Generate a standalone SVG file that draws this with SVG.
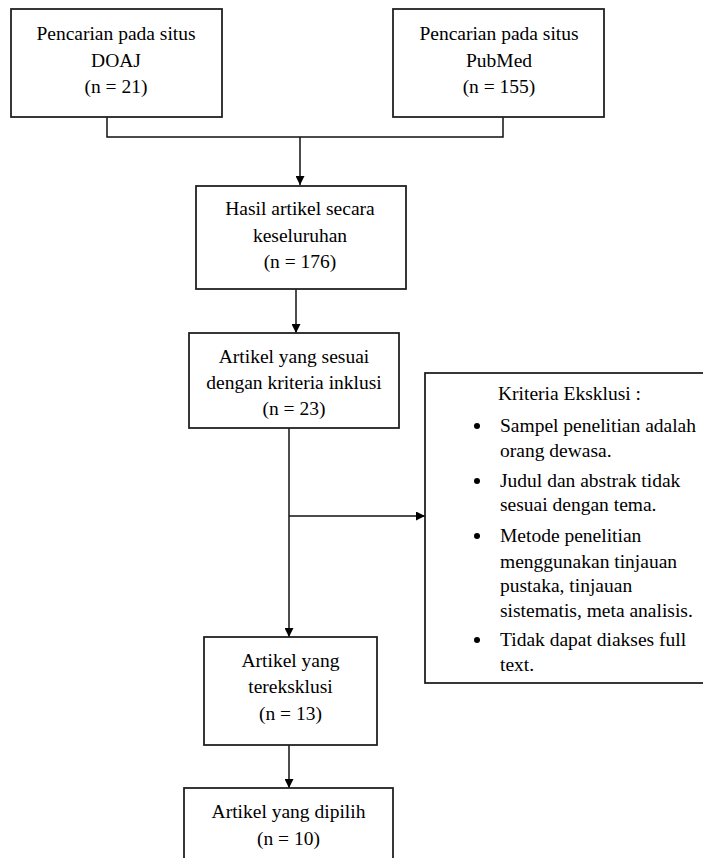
<svg xmlns="http://www.w3.org/2000/svg" width="703" height="858" viewBox="0 0 703 858">
<style>
.box{fill:#fff;stroke:#222;stroke-width:1.8}
.t{font-family:"Liberation Serif","Times New Roman",serif;font-size:19.5px;fill:#000}
.c{text-anchor:middle}
.ln{fill:none;stroke:#111;stroke-width:1.5}
</style>
<defs>
<marker id="ah" viewBox="0 0 10 10" refX="10" refY="5" markerWidth="9" markerHeight="9" markerUnits="userSpaceOnUse" orient="auto">
<path d="M0,0 L10,5 L0,10 Z" fill="#000"/>
</marker>
</defs>
<rect width="703" height="858" fill="#fff"/>
<g id="connectors">
<polyline class="ln" points="107,117 107,137 503,137 503,117"/>
<line class="ln" x1="300" y1="137" x2="300" y2="185" marker-end="url(#ah)"/>
<line class="ln" x1="296" y1="289" x2="296" y2="333" marker-end="url(#ah)"/>
<line class="ln" x1="289" y1="428" x2="289" y2="637" marker-end="url(#ah)"/>
<line class="ln" x1="289" y1="516" x2="425" y2="516" marker-end="url(#ah)"/>
<line class="ln" x1="289" y1="745" x2="289" y2="788" marker-end="url(#ah)"/>
</g>
<g id="doaj">
<rect class="box" x="11" y="9" width="211" height="108"/>
<text class="t c" x="116" y="40">Pencarian pada situs</text>
<text class="t c" x="116" y="67">DOAJ</text>
<text class="t c" x="116" y="93">(n = 21)</text>
</g>
<g id="pubmed">
<rect class="box" x="393" y="9" width="211" height="108"/>
<text class="t c" x="499" y="40">Pencarian pada situs</text>
<text class="t c" x="499" y="67">PubMed</text>
<text class="t c" x="499" y="93">(n = 155)</text>
</g>
<g id="hasil">
<rect class="box" x="196" y="186" width="210" height="103"/>
<text class="t c" x="300" y="215">Hasil artikel secara</text>
<text class="t c" x="300" y="242">keseluruhan</text>
<text class="t c" x="300" y="268">(n = 176)</text>
</g>
<g id="inklusi">
<rect class="box" x="189" y="333" width="210" height="95"/>
<text class="t c" x="294" y="363">Artikel yang sesuai</text>
<text class="t c" x="294" y="389">dengan kriteria inklusi</text>
<text class="t c" x="294" y="415">(n = 23)</text>
</g>
<g id="eksklusi">
<rect class="box" x="425" y="373" width="290" height="310"/>
<text class="t" x="498" y="400">Kriteria Eksklusi :</text>
<circle cx="477" cy="426" r="3"/>
<text class="t" x="500" y="432">Sampel penelitian adalah</text>
<text class="t" x="500" y="457">orang dewasa.</text>
<circle cx="477" cy="481" r="3"/>
<text class="t" x="500" y="487">Judul dan abstrak tidak</text>
<text class="t" x="500" y="511">sesuai dengan tema.</text>
<circle cx="477" cy="536" r="3"/>
<text class="t" x="500" y="542">Metode penelitian</text>
<text class="t" x="500" y="568">menggunakan tinjauan</text>
<text class="t" x="500" y="592">pustaka, tinjauan</text>
<text class="t" x="500" y="617">sistematis, meta analisis.</text>
<circle cx="477" cy="640" r="3"/>
<text class="t" x="500" y="646">Tidak dapat diakses full</text>
<text class="t" x="500" y="671">text.</text>
</g>
<g id="tereksklusi">
<rect class="box" x="204" y="637" width="173" height="108"/>
<text class="t c" x="290.5" y="667">Artikel yang</text>
<text class="t c" x="290.5" y="693">tereksklusi</text>
<text class="t c" x="290.5" y="720">(n = 13)</text>
</g>
<g id="dipilih">
<rect class="box" x="184" y="788" width="209" height="80"/>
<text class="t c" x="288.5" y="818">Artikel yang dipilih</text>
<text class="t c" x="288.5" y="845">(n = 10)</text>
</g>
</svg>
